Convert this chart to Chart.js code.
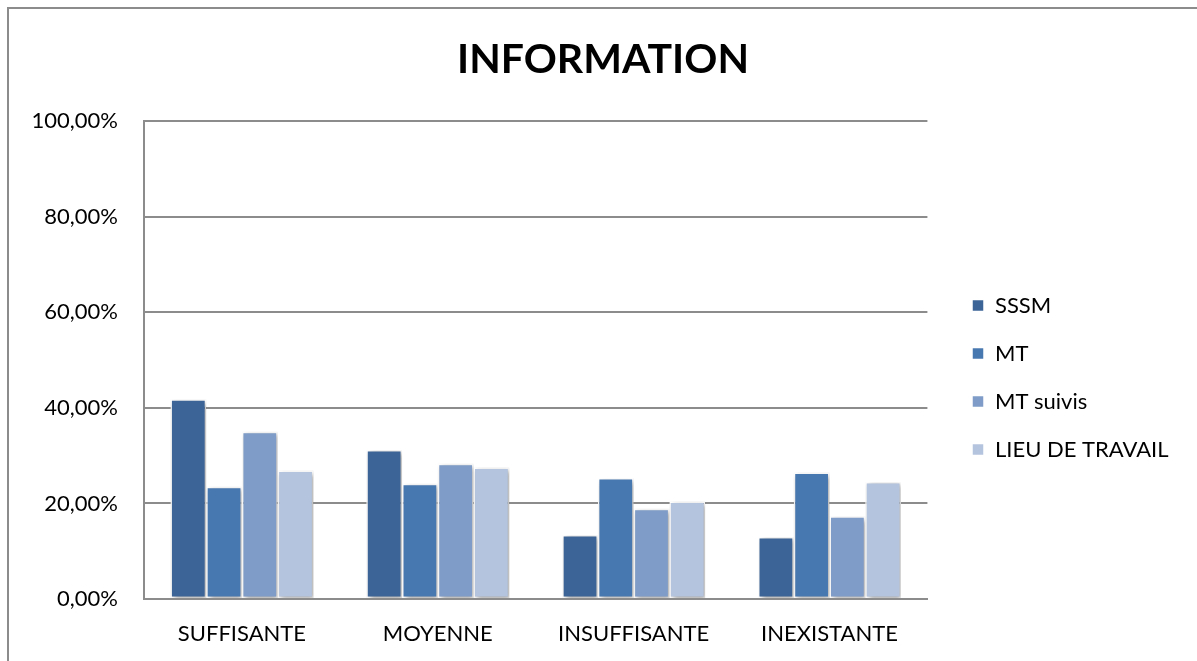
<!DOCTYPE html>
<html>
<head>
<meta charset="utf-8">
<script src="https://cdn.jsdelivr.net/npm/chart.js@4/dist/chart.umd.min.js"></script>
<style>
  html, body { margin: 0; padding: 0; background: #fff; }
  #wrap { position: relative; width: 1197px; height: 661px; }
</style>
</head>
<body>
<div id="wrap"><canvas id="myChart" width="1197" height="661"></canvas></div>
<script>
const categories = ['SUFFISANTE', 'MOYENNE', 'INSUFFISANTE', 'INEXISTANTE'];
const seriesNames = ['SSSM', 'MT', 'MT suivis', 'LIEU DE TRAVAIL'];
const sssm = [41.8, 31.2, 13.4, 13.0];
const mt = [23.5, 24.1, 25.3, 26.5];
const mtSuivis = [35.0, 28.3, 18.9, 17.3];
const lieuTravail = [26.9, 27.5, 20.4, 24.5];
const yTicks = [0, 20, 40, 60, 80, 100];
const colors = ['#3c6496', '#4878b0', '#7f9cc8', '#b4c3de'];

const FONT = 'Lato, "Open Sans", sans-serif';

// cadre gris, ombre des barres, position de la légende et du titre
const frame = {
  id: 'frame',
  beforeDraw(chart) {
    const c = chart.ctx;
    c.save();
    c.fillStyle = '#fff';
    c.fillRect(0, 0, chart.width, chart.height);
    c.strokeStyle = '#8c8c8c';
    c.lineWidth = 2;
    c.strokeRect(8, 8, chart.width + 20, chart.height + 20);
    c.restore();
  },
  afterLayout(chart) {
    const lg = chart.legend;
    const w = lg.right - lg.left;
    lg.left = 946;
    lg.right = lg.left + w;
    lg.top += 47;
    lg.bottom += 47;
    chart.titleBlock.left += 46;
  },
  beforeDatasetsDraw(chart) {
    const c = chart.ctx;
    c.save();
    c.shadowColor = 'rgba(0,0,0,0.35)';
    c.shadowBlur = 5;
    c.shadowOffsetX = 2;
    c.shadowOffsetY = 2;
  },
  afterDatasetsDraw(chart) {
    chart.ctx.restore();
  }
};

const ctx = document.getElementById('myChart');

new Chart(ctx, {
  type: 'bar',
  data: {
    labels: categories,
    datasets: [
      { label: seriesNames[0], data: sssm },
      { label: seriesNames[1], data: mt },
      { label: seriesNames[2], data: mtSuivis },
      { label: seriesNames[3], data: lieuTravail },
    ].map((d, i) => Object.assign(d, {
      backgroundColor: colors[i],
      borderColor: '#ffffff',
      borderWidth: 1.5,
      borderSkipped: false,
      categoryPercentage: 0.73,
      barPercentage: 1,
    })),
  },
  options: {
    responsive: false,
    animation: false,
    layout: { padding: { left: 0, right: 37, top: 0, bottom: 0 } },
    plugins: {
      title: {
        display: true,
        text: 'INFORMATION',
        color: '#000',
        font: { family: FONT, size: 41, weight: 'bold' },
        padding: { top: 35, bottom: 37 },
      },
      legend: {
        position: 'right',
        align: 'center',
        labels: {
          color: '#000',
          font: { family: FONT, size: 22 },
          boxWidth: 12,
          boxHeight: 12,
          padding: 26,
        },
      },
      tooltip: { enabled: false },
    },
    scales: {
      x: {
        afterFit(scale) { scale.height = 62; },
        grid: { display: false, drawTicks: false },
        border: { display: true, color: '#8c8c8c', width: 2 },
        ticks: { color: '#000', font: { family: FONT, size: 22 }, padding: 22, maxRotation: 0 },
      },
      y: {
        min: 0,
        max: 100,
        afterFit(scale) { scale.width = 144; },
        afterBuildTicks(scale) { scale.ticks = yTicks.map(v => ({ value: v })); },
        grid: { color: '#8c8c8c', lineWidth: 2, drawTicks: false },
        border: { display: true, color: '#8c8c8c', width: 2 },
        ticks: {
          color: '#000',
          font: { family: FONT, size: 22 },
          padding: 26,
          callback: v => v.toFixed(2).replace('.', ',') + '%',
        },
      },
    },
  },
  plugins: [frame],
});
</script>
</body>
</html>
